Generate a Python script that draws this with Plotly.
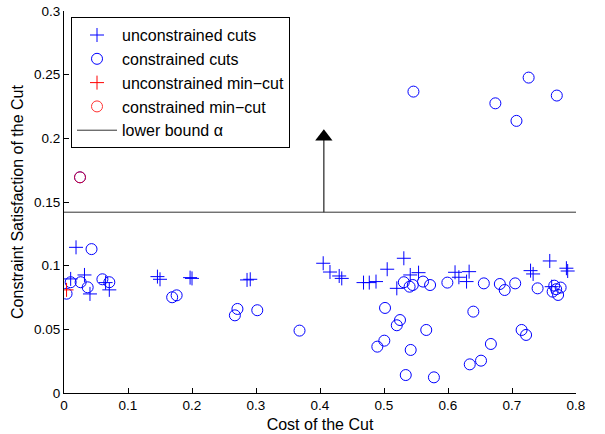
import plotly.graph_objects as go

# unconstrained cuts (+)
unc_x = [0.0188, 0.0104, 0.032, 0.0406, 0.065, 0.0708, 0.146, 0.150, 0.197, 0.200,
         0.286, 0.291, 0.405, 0.4156, 0.430, 0.434, 0.468, 0.477, 0.4875, 0.505,
         0.531, 0.520, 0.541, 0.554, 0.611, 0.617, 0.629, 0.633, 0.729, 0.733,
         0.759, 0.762, 0.785, 0.787]
unc_y = [0.1144, 0.0896, 0.0927, 0.0778, 0.0867, 0.081, 0.0914, 0.0893, 0.0906, 0.0900,
         0.0888, 0.0893, 0.1019, 0.095, 0.0919, 0.090, 0.0867, 0.0867, 0.0875, 0.0972,
         0.1058, 0.0822, 0.0927, 0.0945, 0.0948, 0.0909, 0.0875, 0.0953, 0.0961, 0.0935,
         0.1037, 0.0835, 0.098, 0.0958]

# constrained cuts (o)
con_x = [0.025, 0.546, 0.674, 0.726, 0.707, 0.770,
         0.043, 0.0104, 0.026, 0.037, 0.060, 0.0708, 0.004, 0.169, 0.176,
         0.271, 0.267, 0.302, 0.368,
         0.531, 0.540, 0.545, 0.561, 0.572, 0.599, 0.5016, 0.525, 0.520, 0.566,
         0.5005, 0.4896, 0.5417, 0.534, 0.578, 0.6396, 0.634, 0.6516,
         0.656, 0.681, 0.6886, 0.705, 0.740, 0.766, 0.769, 0.776, 0.772, 0.7635,
         0.715, 0.722, 0.667]
con_y = [0.1694, 0.2367, 0.2275, 0.2477, 0.2137, 0.2336,
         0.113, 0.087, 0.087, 0.083, 0.0893, 0.087, 0.078, 0.0752, 0.0767,
         0.066, 0.061, 0.065, 0.049,
         0.087, 0.0835, 0.0848, 0.0875, 0.0848, 0.0867, 0.0668, 0.0573, 0.0532, 0.0495,
         0.0411, 0.0364, 0.0338, 0.0141, 0.0123, 0.0639, 0.0225, 0.0254,
         0.0861, 0.0856, 0.0809, 0.0861, 0.0822, 0.0843, 0.0815, 0.0828, 0.077, 0.0796,
         0.0495, 0.0456, 0.0385]

# min-cuts
unc_min_x = [0.004]
unc_min_y = [0.081]
con_min_x = [0.025]
con_min_y = [0.1694]

# lower bound alpha and arrow
alpha = 0.142
x_range = [0, 0.8]
arrow_x = 0.406
arrow_tip = 0.2013

x_ticks = [0, 0.1, 0.2, 0.3, 0.4, 0.5, 0.6, 0.7, 0.8]
x_ticktext = ["0", "0.1", "0.2", "0.3", "0.4", "0.5", "0.6", "0.7", "0.8"]
y_ticks = [0, 0.05, 0.1, 0.15, 0.2, 0.25, 0.3]
y_ticktext = ["0", "0.05", "0.1", "0.15", "0.2", "0.25", "0.3"]

BLUE = "#0000ff"
RED = "#ff0000"
FONT = "Liberation Sans, Arial, sans-serif"

fig = go.Figure()
fig.add_trace(go.Scatter(
    x=unc_x, y=unc_y, mode="markers", name="unconstrained cuts",
    marker=dict(symbol="cross-thin-open", size=10, line=dict(color=BLUE, width=1), color=BLUE)))
fig.add_trace(go.Scatter(
    x=con_x, y=con_y, mode="markers", name="constrained cuts",
    marker=dict(symbol="circle-open", size=11, line=dict(color=BLUE, width=1), color=BLUE)))
fig.add_trace(go.Scatter(
    x=unc_min_x, y=unc_min_y, mode="markers", name="unconstrained min\u2212cut",
    marker=dict(symbol="cross-thin-open", size=10, line=dict(color=RED, width=1), color=RED)))
fig.add_trace(go.Scatter(
    x=con_min_x, y=con_min_y, mode="markers", name="constrained min\u2212cut",
    opacity=0.8,
    marker=dict(symbol="circle-open", size=11, line=dict(color=RED, width=1), color=RED)))
fig.add_trace(go.Scatter(
    x=x_range, y=[alpha, alpha], mode="lines", name="lower bound \u03b1",
    line=dict(color="#333333", width=1)))
# arrow
fig.add_trace(go.Scatter(
    x=[arrow_x, arrow_x], y=[alpha, arrow_tip], mode="lines", showlegend=False,
    line=dict(color="#333333", width=1.3), hoverinfo="skip"))
fig.add_trace(go.Scatter(
    x=[arrow_x], y=[arrow_tip], mode="markers", showlegend=False,
    marker=dict(symbol="triangle-up", size=15, color="black"), hoverinfo="skip"))

axis_common = dict(
    showgrid=False, zeroline=False, showline=True, linecolor="black", linewidth=1,
    ticks="inside", ticklen=5, tickcolor="black", tickwidth=1, automargin=False,
    tickfont=dict(family=FONT, size=13.5, color="black"), mirror=False)

fig.update_layout(
    width=605, height=434,
    margin=dict(l=64, r=29, t=11, b=41),
    paper_bgcolor="white", plot_bgcolor="white",
    font=dict(family=FONT, color="black"),
    xaxis=dict(range=x_range, tickvals=x_ticks, ticktext=x_ticktext,
               title=dict(text="Cost of the Cut", font=dict(family=FONT, size=16), standoff=6),
               **axis_common),
    yaxis=dict(range=[0, 0.3], tickvals=y_ticks, ticktext=y_ticktext,
               title=dict(text="Constraint Satisfaction of the Cut", font=dict(family=FONT, size=16), standoff=6),
               **axis_common),
    legend=dict(x=0.0137, y=0.984, xanchor="left", yanchor="top",
                bordercolor="#000000", borderwidth=1, bgcolor="white",
                font=dict(family=FONT, size=16), tracegroupgap=0,
                itemwidth=40),
    showlegend=True,
)

fig.write_html("out.html")
